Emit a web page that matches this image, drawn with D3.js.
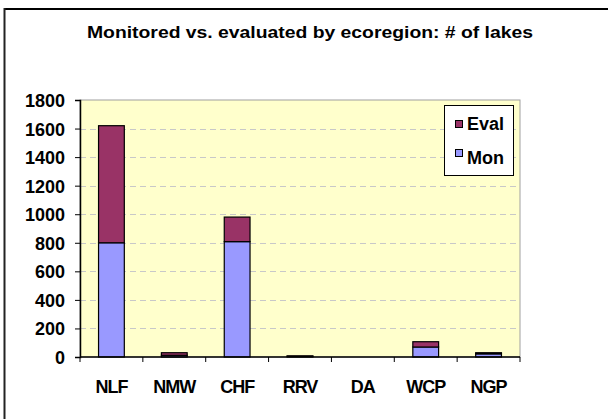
<!DOCTYPE html>
<html>
<head>
<meta charset="utf-8">
<script src="https://cdn.jsdelivr.net/npm/d3@7"></script>
<style>
  body { margin: 0; background: #fff; }
  text { font-family: "Liberation Sans", Arial, sans-serif; font-weight: bold; fill: #000; }
</style>
</head>
<body>
<div id="chart"></div>
<script>
// ecoregions and lake counts
const regions = ["NLF", "NMW", "CHF", "RRV", "DA", "WCP", "NGP"]
const monValues = [800, 12, 808, 5, 0, 70, 22]
const evalValues = [820, 18, 172, 3, 0, 37, 8]
const yTicks = [0, 200, 400, 600, 800, 1000, 1200, 1400, 1600, 1800]
const seriesNames = ["Mon", "Eval"]
const seriesColors = { Mon: "#9999ff", Eval: "#993366" }

const totalWidth = 608
const totalHeight = 419
const plot = { left: 80, top: 100, right: 520, bottom: 357 }

const svg = d3.select("#chart")
    .append("svg")
    .attr("width", totalWidth)
    .attr("height", totalHeight)

// outer frame (only top and left edges show)
svg.append("line")
    .attr("x1", 4).attr("x2", totalWidth).attr("y1", 9).attr("y2", 9)
    .attr("stroke", "#000").attr("stroke-width", 2)
svg.append("line")
    .attr("x1", 4.5).attr("x2", 4.5).attr("y1", 8).attr("y2", totalHeight)
    .attr("stroke", "#222").attr("stroke-width", 2)

svg.append("text")
    .attr("x", 310)
    .attr("y", 38)
    .attr("text-anchor", "middle")
    .attr("textLength", 446)
    .attr("lengthAdjust", "spacingAndGlyphs")
    .style("font-size", "16px")
    .text("Monitored vs. evaluated by ecoregion: # of lakes")

const x = d3.scaleBand().domain(regions).range([plot.left, plot.right])
const y = d3.scaleLinear().domain([0, 1800]).range([plot.bottom, plot.top])

// plot background
svg.append("rect")
    .attr("x", plot.left)
    .attr("y", plot.top)
    .attr("width", plot.right - plot.left)
    .attr("height", plot.bottom - plot.top)
    .attr("fill", "#ffffcc")
    .attr("stroke", "#a0a0a0")

// dashed gridlines
svg.append("g")
    .selectAll("line")
    .data(yTicks.filter((d) => d > 0 && d < 1800))
    .join("line")
    .attr("x1", plot.left)
    .attr("x2", plot.right)
    .attr("y1", (d) => Math.round(y(d)) + 0.5)
    .attr("y2", (d) => Math.round(y(d)) + 0.5)
    .attr("stroke", "#c8c8c8")
    .attr("stroke-dasharray", "6,4")

// stacked bars
const table = regions.map((r, i) => ({ region: r, Mon: monValues[i], Eval: evalValues[i] }))
const stacked = d3.stack().keys(seriesNames)(table)
const barW = x.bandwidth() * 0.41

svg.append("g")
    .selectAll("g")
    .data(stacked)
    .join("g")
    .attr("fill", (s) => seriesColors[s.key])
    .selectAll("rect")
    .data((s) => s.filter((d) => d[1] - d[0] > 0))
    .join("rect")
    .attr("x", (d) => x(d.data.region) + (x.bandwidth() - barW) / 2)
    .attr("y", (d) => y(d[1]))
    .attr("width", barW)
    .attr("height", (d) => y(d[0]) - y(d[1]))
    .attr("stroke", "#000")
    .attr("stroke-width", 1.2)

// y axis
const yAxis = svg.append("g")
    .attr("transform", `translate(${plot.left},0)`)
    .call(d3.axisLeft(y).tickValues(yTicks).tickFormat(d3.format("d")).tickSize(5).tickPadding(10))
yAxis.select(".domain").attr("stroke", "#000").attr("stroke-width", 1.5)
yAxis.selectAll(".tick line").attr("stroke", "#000")
yAxis.selectAll("text")
    .style("font-size", "18px")
    .style("font-family", "Liberation Sans, Arial, sans-serif")
    .style("font-weight", "bold")
    .attr("dy", "0.36em")

// x axis with ticks between categories
const xAxis = svg.append("g")
    .attr("transform", `translate(0,${plot.bottom})`)
xAxis.append("line")
    .attr("x1", plot.left).attr("x2", plot.right)
    .attr("stroke", "#000").attr("stroke-width", 1.5)
xAxis.selectAll(".sep")
    .data(regions.concat(["end"]))
    .join("line")
    .attr("class", "sep")
    .attr("x1", (d, i) => plot.left + i * x.step())
    .attr("x2", (d, i) => plot.left + i * x.step())
    .attr("y1", 0).attr("y2", 5)
    .attr("stroke", "#000")
xAxis.selectAll(".lbl")
    .data(regions)
    .join("text")
    .attr("class", "lbl")
    .attr("x", (d) => x(d) + x.bandwidth() / 2)
    .attr("y", 36)
    .attr("text-anchor", "middle")
    .style("font-size", "18px")
    .style("letter-spacing", "-1px")
    .text((d) => d)

// legend
const legend = svg.append("g")
legend.append("rect")
    .attr("x", 444.5).attr("y", 105.5)
    .attr("width", 69).attr("height", 70)
    .attr("fill", "#fff").attr("stroke", "#000")
const legendItems = ["Eval", "Mon"]
legendItems.forEach((k, i) => {
    legend.append("rect")
        .attr("x", 455.5).attr("y", 120.5 + i * 29)
        .attr("width", 7).attr("height", 7)
        .attr("fill", seriesColors[k]).attr("stroke", "#000")
    legend.append("text")
        .attr("x", 467).attr("y", 129.5 + i * 34)
        .style("font-size", "18px")
        .text(k)
})
</script>
</body>
</html>
